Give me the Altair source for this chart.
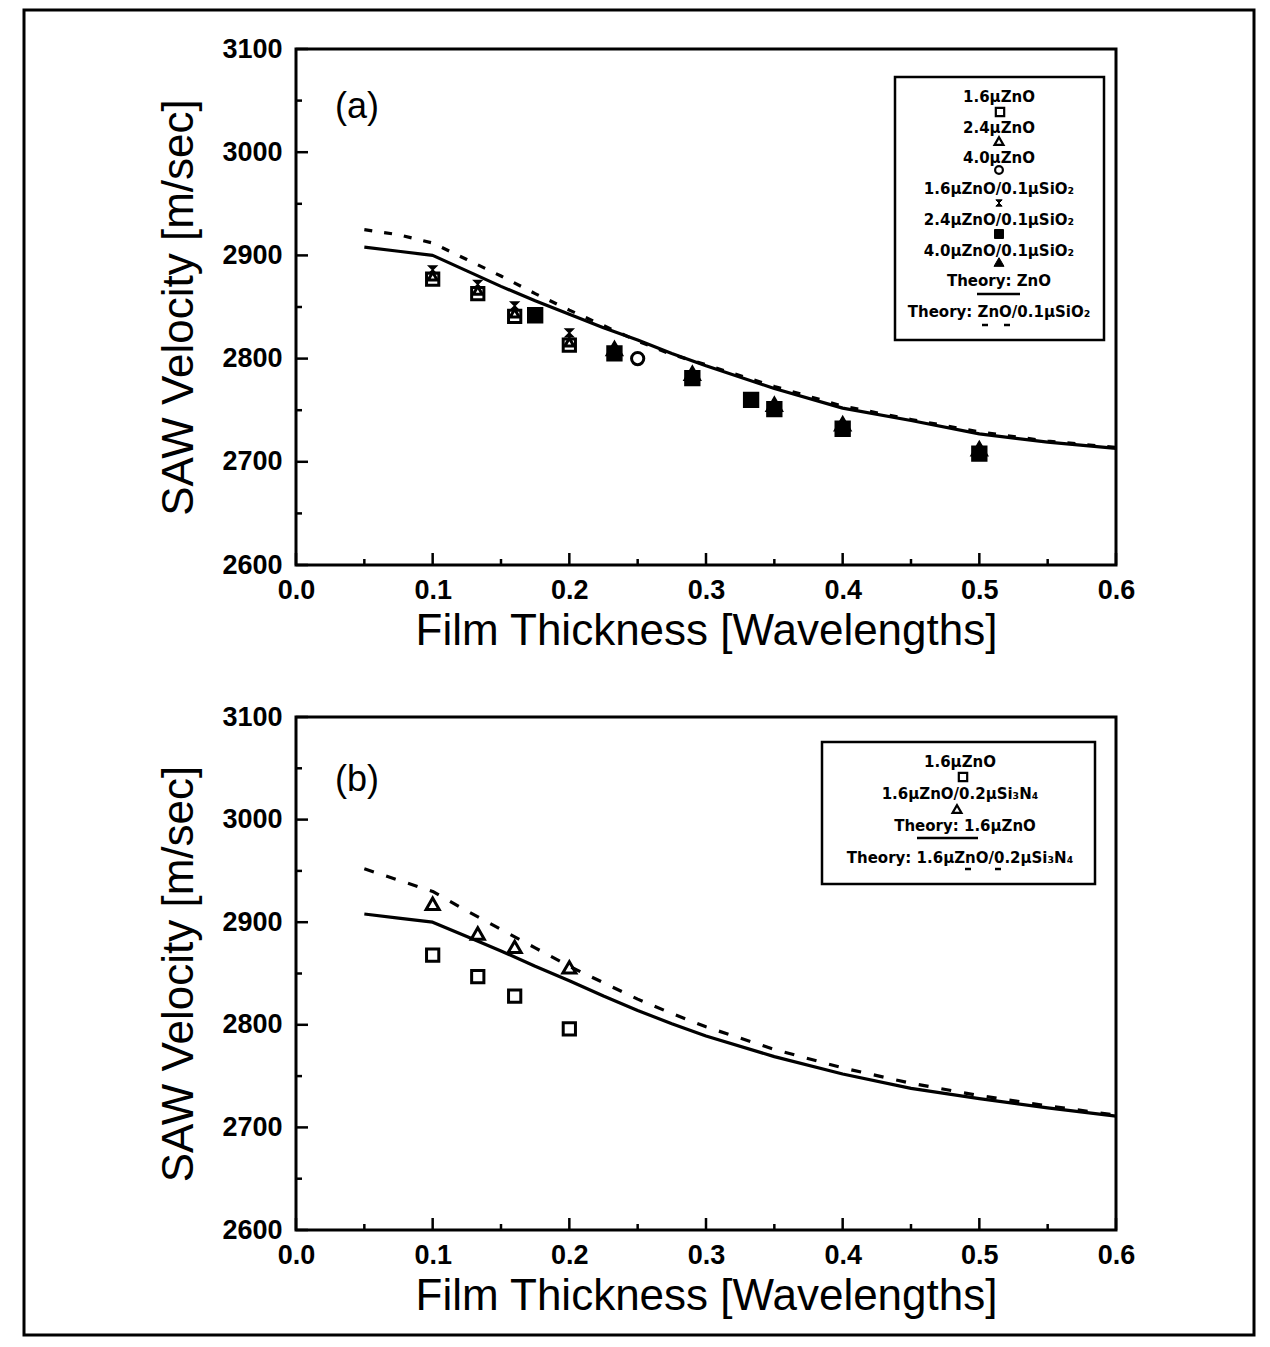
import altair as alt
import pandas as pd

# ---------------- data: panel (a) ----------------
a_sq_x = [0.1, 0.133, 0.16, 0.2]
a_sq_v = [2877, 2863, 2841, 2813]
a_tri_x = [0.1, 0.133, 0.16, 0.2]
a_tri_v = [2880, 2866, 2844, 2816]
a_circ_x = [0.25]
a_circ_v = [2800]
a_star_x = [0.1, 0.133, 0.16, 0.2]
a_star_v = [2886, 2872, 2851, 2825]
a_fsq_x = [0.175, 0.233, 0.29, 0.333, 0.35, 0.4, 0.5]
a_fsq_v = [2842, 2805, 2781, 2760, 2751, 2732, 2708]
a_ftri_x = [0.233, 0.29, 0.35, 0.4, 0.5]
a_ftri_v = [2810, 2786, 2756, 2737, 2713]

theory_x = [0.05, 0.075, 0.1, 0.125, 0.15, 0.175, 0.2, 0.225, 0.25, 0.275,
            0.3, 0.35, 0.4, 0.45, 0.5, 0.55, 0.6]
a_theory_zno = [2908, 2904, 2900, 2885, 2870, 2856, 2843, 2830, 2818, 2805,
                2793, 2771, 2752, 2740, 2727, 2719, 2713]
a_theory_sio2 = [2925, 2920, 2912, 2896, 2880, 2863, 2847, 2832, 2817, 2804,
                 2794, 2773, 2754, 2741, 2729, 2720, 2714]

# ---------------- data: panel (b) ----------------
b_sq_x = [0.1, 0.133, 0.16, 0.2]
b_sq_v = [2868, 2847, 2828, 2796]
b_tri_x = [0.1, 0.133, 0.16, 0.2]
b_tri_v = [2918, 2889, 2876, 2856]
b_theory_zno = [2908, 2904, 2900, 2886, 2872, 2857, 2843, 2828, 2814, 2801,
                2789, 2769, 2752, 2738, 2728, 2719, 2711]
b_theory_sin = [2952, 2941, 2930, 2911, 2893, 2875, 2857, 2841, 2825, 2811,
                2798, 2776, 2758, 2743, 2731, 2721, 2712]

# ---------------- axes / labels ----------------
x_label_vals = [0.0, 0.1, 0.2, 0.3, 0.4, 0.5, 0.6]
x_minor_vals = [0.05, 0.15, 0.25, 0.35, 0.45, 0.55]
y_label_vals = [2600, 2700, 2800, 2900, 3000, 3100]
y_minor_vals = [2650, 2750, 2850, 2950, 3050]

legend_a_labels = ["1.6\u03bcZnO", "2.4\u03bcZnO", "4.0\u03bcZnO",
                   "1.6\u03bcZnO/0.1\u03bcSiO\u2082", "2.4\u03bcZnO/0.1\u03bcSiO\u2082",
                   "4.0\u03bcZnO/0.1\u03bcSiO\u2082", "Theory: ZnO",
                   "Theory: ZnO/0.1\u03bcSiO\u2082"]
legend_b_labels = ["1.6\u03bcZnO", "1.6\u03bcZnO/0.2\u03bcSi\u2083N\u2084",
                   "Theory: 1.6\u03bcZnO", "Theory: 1.6\u03bcZnO/0.2\u03bcSi\u2083N\u2084"]

FONT = "Liberation Sans"
W = 820
H_A = 516
H_B = 513
STAR = "M -1 -1 L 1 -1 L -1 1 L 1 1 Z"

one = pd.DataFrame({"k": [0]})


def pts(xs, vs):
    return pd.DataFrame({"x": xs, "v": vs})


def make_panel(h, label, lines, points, legend_labels, legend_spec, box, frame=None):
    xs = alt.Scale(domain=[0, 0.6], nice=False, zero=False)
    ys = alt.Scale(domain=[2600, 3100], nice=False, zero=False)
    x_axis = alt.Axis(values=x_label_vals, format=".1f", title="Film Thickness [Wavelengths]",
                      labelFont=FONT, labelFontSize=27, labelFontWeight="bold", labelColor="black",
                      labelPadding=12, labelFlush=False, labelOverlap=False, ticks=False,
                      domain=False, grid=False, titleFont=FONT, titleFontSize=44,
                      titleFontWeight="normal", titleColor="black", titlePadding=6)
    y_axis = alt.Axis(values=y_label_vals, format="d", title="SAW Velocity [m/sec]",
                      labelFont=FONT, labelFontSize=27, labelFontWeight="bold", labelColor="black",
                      labelPadding=14, labelFlush=False, labelOverlap=False, ticks=False,
                      domain=False, grid=False, titleFont=FONT, titleFontSize=44,
                      titleFontWeight="normal", titleColor="black", titlePadding=20)
    X = alt.X("x:Q", scale=xs, axis=x_axis)
    Y = alt.Y("v:Q", scale=ys, axis=y_axis)

    layers = []
    if frame is not None:
        layers.append(alt.Chart(one).mark_rect(fillOpacity=0, stroke="black", strokeWidth=3).encode(
            x=alt.value(frame[0]), x2=alt.value(frame[1]), y=alt.value(frame[2]), y2=alt.value(frame[3])))
    # inward ticks
    layers.append(alt.Chart(pd.DataFrame({"x": x_label_vals})).mark_rule(color="black", strokeWidth=2.5).encode(
        x=X, y=alt.value(h), y2=alt.value(h - 12)))
    layers.append(alt.Chart(pd.DataFrame({"x": x_minor_vals})).mark_rule(color="black", strokeWidth=2.5).encode(
        x=X, y=alt.value(h), y2=alt.value(h - 6)))
    layers.append(alt.Chart(pd.DataFrame({"v": y_label_vals})).mark_rule(color="black", strokeWidth=2.5).encode(
        y=Y, x=alt.value(0), x2=alt.value(12)))
    layers.append(alt.Chart(pd.DataFrame({"v": y_minor_vals})).mark_rule(color="black", strokeWidth=2.5).encode(
        y=Y, x=alt.value(0), x2=alt.value(6)))
    # theory lines
    for vals, dash in lines:
        kw = dict(color="black", strokeWidth=3.2, strokeJoin="round")
        if dash:
            kw["strokeDash"] = dash
        layers.append(alt.Chart(pts(theory_x, vals)).mark_line(**kw).encode(x=X, y=Y))
    # points
    for df, shape, filled, size in points:
        if filled:
            m = alt.Chart(df).mark_point(shape=shape, filled=True, fill="black", stroke="black",
                                         strokeWidth=1.5, size=size, opacity=1)
        else:
            m = alt.Chart(df).mark_point(shape=shape, filled=False, stroke="black",
                                         strokeWidth=3, size=size, opacity=1)
        layers.append(m.encode(x=X, y=Y))
    # legend box
    layers.append(alt.Chart(one).mark_rect(fill="white", stroke="black", strokeWidth=2.5).encode(
        x=alt.value(box[0]), x2=alt.value(box[1]), y=alt.value(box[2]), y2=alt.value(box[3])))
    for i, lab in enumerate(legend_labels):
        tx, ty = legend_spec["text"][i]
        layers.append(alt.Chart(one).mark_text(font="DejaVu Sans", fontSize=15, fontWeight="bold",
                                               color="black", align="center", baseline="middle").encode(
            x=alt.value(tx), y=alt.value(ty), text=alt.value(lab)))
    for (sx, sy, shape, filled, size) in legend_spec["symbols"]:
        if filled:
            m = alt.Chart(one).mark_point(shape=shape, filled=True, fill="black", stroke="black",
                                          strokeWidth=1, size=size, opacity=1)
        else:
            m = alt.Chart(one).mark_point(shape=shape, filled=False, stroke="black",
                                          strokeWidth=2.2, size=size, opacity=1)
        layers.append(m.encode(x=alt.value(sx), y=alt.value(sy)))
    for (x1, x2, yy) in legend_spec["segments"]:
        layers.append(alt.Chart(one).mark_rule(color="black", strokeWidth=2.5).encode(
            x=alt.value(x1), x2=alt.value(x2), y=alt.value(yy)))
    # panel label
    layers.append(alt.Chart(one).mark_text(font=FONT, fontSize=36, color="black", align="left",
                                           baseline="middle").encode(
        x=alt.value(39), y=alt.value(label[1]), text=alt.value(label[0])))
    return alt.layer(*layers).properties(width=W, height=h)


# legend layout (a)
la_text = [(703, 48 + i * 30.7) for i in range(8)]
la_sym = [(704, 63, "square", False, 70), (703, 92, "triangle-up", False, 80),
          (703, 121, "circle", False, 60), (703, 154, STAR, True, 40),
          (703, 185, "square", True, 80), (703, 213, "triangle-up", True, 100)]
la_seg = [(681, 724, 245), (686, 692, 276), (708, 714, 276)]

pa = make_panel(
    H_A, ("(a)", 58),
    [(a_theory_zno, None), (a_theory_sio2, [8, 12])],
    [(pts(a_sq_x, a_sq_v), "square", False, 150),
     (pts(a_tri_x, a_tri_v), "triangle-up", False, 80),
     (pts(a_circ_x, a_circ_v), "circle", False, 150),
     (pts(a_star_x, a_star_v), STAR, True, 60),
     (pts(a_fsq_x, a_fsq_v), "square", True, 220),
     (pts(a_ftri_x, a_ftri_v), "triangle-up", True, 280)],
    legend_a_labels,
    {"text": la_text, "symbols": la_sym, "segments": la_seg},
    (599, 808, 28, 291),
    frame=(-272, 958, -39, 1286),
)

# legend layout (b)
lb_text = [(664, 45), (664, 77), (669, 109), (664, 141)]
lb_sym = [(667, 60, "square", False, 70), (661, 92, "triangle-up", False, 80)]
lb_seg = [(621, 682, 121), (669, 675, 152), (699, 705, 152)]

pb = make_panel(
    H_B, ("(b)", 63),
    [(b_theory_zno, None), (b_theory_sin, [10, 13])],
    [(pts(b_sq_x, b_sq_v), "square", False, 150),
     (pts(b_tri_x, b_tri_v), "triangle-up", False, 170)],
    legend_b_labels,
    {"text": lb_text, "symbols": lb_sym, "segments": lb_seg},
    (526, 799, 25, 167),
)

chart = alt.vconcat(pa, pb, spacing=152, bounds="flush").properties(
    padding={"left": 21, "top": 7, "right": 10, "bottom": 4},
    background="white",
).configure_view(stroke="black", strokeWidth=3)

chart.save("out.html", embed_options={"renderer": "svg", "actions": False})
